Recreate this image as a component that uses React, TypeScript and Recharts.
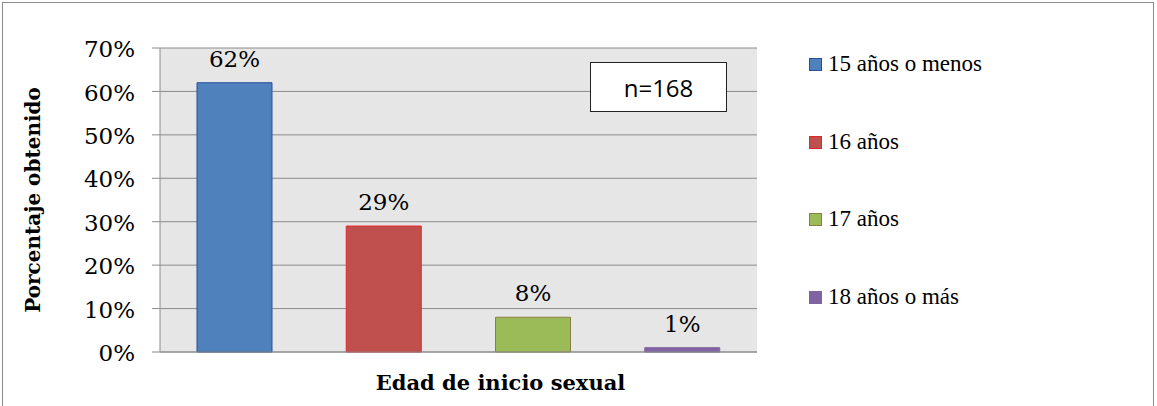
import { BarChart, Bar, Cell, XAxis, YAxis, CartesianGrid, LabelList } from 'recharts'

const CATEGORIES = ['15 años o menos', '16 años', '17 años', '18 años o más']
const VALUES = [62, 29, 8, 1]
const Y_TICKS = [0, 10, 20, 30, 40, 50, 60, 70]
const FILLS = ['#4f81bd', '#c0504d', '#9bbb59', '#8064a2']
const STROKES = ['#2b4e9b', '#e0272a', '#8c7d45', '#8064a2']

const SERIF = '"DejaVu Serif", serif'
const LEGEND_FONT = '"Liberation Serif", "Times New Roman", serif'

const data = CATEGORIES.map((name, i) => ({ name, value: VALUES[i] }))

function LegendBox() {
  return (
    <div style={{ position: 'absolute', left: 809, top: 50, display: 'flex', flexDirection: 'column' }}>
      {CATEGORIES.map((c, i) => (
        <div
          key={c}
          style={{
            height: 77.5,
            display: 'flex',
            alignItems: 'flex-start',
            fontFamily: LEGEND_FONT,
            fontSize: 23,
            color: '#000',
            lineHeight: '28px',
          }}
        >
          <span
            style={{
              width: 11,
              height: 11,
              background: FILLS[i],
              border: `1px solid ${STROKES[i]}`,
              marginTop: 8,
              marginRight: 6,
              flex: 'none',
            }}
          />
          {c}
        </div>
      ))}
    </div>
  )
}

export default function App() {
  return (
    <div style={{ position: 'absolute', left: 0, top: 0, width: 1157, height: 406, background: '#fff' }}>
      <div
        style={{
          position: 'absolute',
          left: 2,
          top: 2,
          width: 1152,
          height: 406,
          border: '1px solid #8c8c8c',
          boxSizing: 'border-box',
        }}
      />
      <BarChart
        width={1157}
        height={406}
        data={data}
        margin={{ top: 48, right: 400, bottom: 0, left: 0 }}
        style={{ position: 'absolute', left: 0, top: 0 }}
      >
        <CartesianGrid vertical={false} stroke="#8c8c8c" fill="#e6e6e6" />
        <XAxis
          dataKey="name"
          tick={false}
          tickLine={false}
          axisLine={{ stroke: '#8c8c8c' }}
          height={54}
          label={{
            content: (props: any) => {
              const vb = props.viewBox
              return (
                <text
                  x={vb.x + vb.width / 2 + 42}
                  y={vb.y + 38}
                  textAnchor="middle"
                  fontFamily={SERIF}
                  fontWeight="bold"
                  fontSize={21}
                  fill="#000"
                >
                  Edad de inicio sexual
                </text>
              )
            },
          }}
        />
        <YAxis
          width={160}
          domain={[0, 70]}
          ticks={Y_TICKS}
          interval={0}
          tickFormatter={(v: number) => `${v}%`}
          tickSize={8}
          tickMargin={17}
          tickLine={{ stroke: '#8c8c8c' }}
          axisLine={{ stroke: '#8c8c8c' }}
          tick={{ fill: '#000', fontFamily: SERIF, fontSize: 23, dy: 1 }}
          label={{
            content: (props: any) => {
              const vb = props.viewBox
              const cy = vb.y + vb.height / 2
              return (
                <text
                  x={40}
                  y={cy}
                  transform={`rotate(-90 40 ${cy})`}
                  textAnchor="middle"
                  fontFamily={SERIF}
                  fontWeight="bold"
                  fontSize={20}
                  fill="#000"
                >
                  Porcentaje obtenido
                </text>
              )
            },
          }}
        />
        <Bar dataKey="value" barSize={75} isAnimationActive={false}>
          {data.map((d, i) => (
            <Cell key={d.name} fill={FILLS[i]} stroke={STROKES[i]} strokeWidth={1} />
          ))}
          <LabelList
            dataKey="value"
            position="top"
            offset={16}
            formatter={(v: any) => `${v}%`}
            fill="#000"
            fontFamily={SERIF}
            fontSize={23}
          />
        </Bar>
      </BarChart>
      <LegendBox />
      <div
        style={{
          position: 'absolute',
          left: 590,
          top: 62,
          width: 137,
          height: 50,
          border: '1px solid #222',
          boxSizing: 'border-box',
          background: '#fff',
          display: 'flex',
          alignItems: 'center',
          justifyContent: 'center',
          fontFamily: '"Open Sans", sans-serif',
          fontSize: 24,
          color: '#000',
        }}
      >
        n=168
      </div>
    </div>
  )
}
